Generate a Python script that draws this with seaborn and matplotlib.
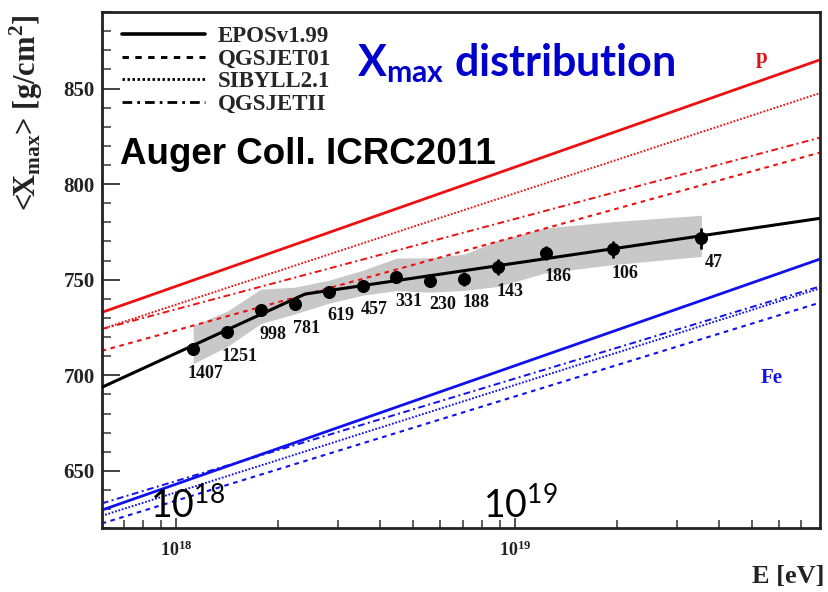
import numpy as np
import pandas as pd
import matplotlib
matplotlib.use("Agg")
import matplotlib.pyplot as plt
from matplotlib.ticker import LogLocator, MultipleLocator, NullFormatter, FuncFormatter
from matplotlib.lines import Line2D
import seaborn as sns

# Auger <Xmax> measurement, ICRC 2011
log_energy = [18.05, 18.15, 18.25, 18.35, 18.45, 18.55, 18.65, 18.75, 18.85, 18.95, 19.09, 19.29, 19.55]
xmax_mean = [713.6, 722.5, 734.1, 737.1, 743.7, 746.9, 751.3, 749.5, 750.4, 756.5, 764.1, 765.9, 771.7]
xmax_stat = [1.6, 1.7, 1.9, 2.1, 2.3, 2.6, 3.0, 3.4, 3.8, 4.2, 3.6, 4.5, 5.5]
sys_up = [12.5, 11.0, 11.0, 9.0, 6.0, 8.0, 10.0, 12.0, 13.0, 14.0, 13.0, 14.5, 12.0]
sys_down = [7.5, 7.5, 7.0, 5.0, 6.0, 5.0, 7.0, 6.0, 6.0, 10.0, 10.5, 8.0, 9.5]
n_events = [1407, 1251, 998, 781, 619, 457, 331, 230, 188, 143, 186, 106, 47]

# broken-line fit of the elongation rate
fit_log_energy = [17.78, 18.38, 19.90]
fit_xmax = [693.7, 742.5, 782.1]

# hadronic interaction model predictions
model_log_energy = [17.78, 19.90]
models = ["EPOSv1.99", "QGSJET01", "SIBYLL2.1", "QGSJETII"]
proton_xmax = {"EPOSv1.99": [732.9, 865.0], "QGSJET01": [712.8, 816.5],
               "SIBYLL2.1": [724.2, 847.6], "QGSJETII": [724.2, 824.3]}
iron_xmax = {"EPOSv1.99": [629.5, 760.8], "QGSJET01": [622.5, 738.0],
             "SIBYLL2.1": [626.5, 745.5], "QGSJETII": [633.0, 746.5]}

sns.set_theme(style="ticks")
plt.rcParams["font.family"] = ["Liberation Serif", "DejaVu Serif"]
plt.rcParams["font.weight"] = "bold"
plt.rcParams["axes.linewidth"] = 2.0
plt.rcParams["axes.edgecolor"] = "#222222"

rows = []
for primary, table in (("p", proton_xmax), ("Fe", iron_xmax)):
    for m in models:
        for le, xm in zip(model_log_energy, table[m]):
            rows.append({"E": 10 ** le, "Xmax": xm, "model": m, "primary": primary})
models_df = pd.DataFrame(rows)

data_df = pd.DataFrame({"E": 10 ** np.array(log_energy), "Xmax": xmax_mean,
                        "stat": xmax_stat, "lo": np.array(xmax_mean) - np.array(sys_down),
                        "hi": np.array(xmax_mean) + np.array(sys_up), "N": n_events})
fit_df = pd.DataFrame({"E": 10 ** np.array(fit_log_energy), "Xmax": fit_xmax})

line_style = {
    "EPOSv1.99": dict(lw=2.0),
    "QGSJET01": dict(lw=1.5, dashes=(2.2, 2.2)),
    "SIBYLL2.1": dict(lw=1.4, dashes=(0.9, 0.9)),
    "QGSJETII": dict(lw=1.4, dashes=(3.5, 1.8, 1.0, 1.8)),
}
colors = {"p": "#ee1010", "Fe": "#1010ee"}

fig = plt.figure(figsize=(8.29, 5.92), dpi=100)
ax = fig.add_axes([0.1227, 0.1076, 0.8664, 0.8721])

# systematic uncertainty band
ax.fill_between(data_df["E"], data_df["lo"], data_df["hi"], color="#c8c8c8", lw=0, zorder=1)

for (primary, m), sub in models_df.groupby(["primary", "model"]):
    st = line_style[m]
    kw = {"dashes": st["dashes"]} if "dashes" in st else {}
    sns.lineplot(data=sub, x="E", y="Xmax", color=colors[primary], lw=st["lw"],
                 ax=ax, legend=False, zorder=2, **kw)

sns.lineplot(data=fit_df, x="E", y="Xmax", color="black", lw=2.2, ax=ax, legend=False, zorder=3)
ax.errorbar(data_df["E"], data_df["Xmax"], yerr=data_df["stat"], fmt="none",
            ecolor="black", elinewidth=2.0, zorder=4)
sns.scatterplot(data=data_df, x="E", y="Xmax", color="black", s=75, edgecolor="black",
                ax=ax, zorder=5, legend=False)

for e, xm, n in zip(data_df["E"], data_df["Xmax"], data_df["N"]):
    ax.annotate(str(n), (e, xm), xytext=(12, -24), textcoords="offset pixels",
                ha="center", va="center", fontsize=13, fontweight="bold", color="#111111")

ax.set_xscale("log")
ax.set_xlim(10 ** 17.78, 10 ** 19.90)
ax.set_ylim(620, 890)
ax.set_xlabel("")
ax.set_ylabel("")

ax.yaxis.set_major_locator(MultipleLocator(50))
ax.yaxis.set_minor_locator(MultipleLocator(10))
ax.xaxis.set_major_locator(LogLocator(base=10, numticks=10))
ax.xaxis.set_minor_locator(LogLocator(base=10, subs=np.arange(2, 10), numticks=20))
ax.xaxis.set_minor_formatter(NullFormatter())
ax.xaxis.set_major_formatter(FuncFormatter(
    lambda v, p: r"$\mathregular{10^{%d}}$" % int(round(np.log10(v)))))

ax.tick_params(axis="y", which="major", direction="in", length=13, width=1.3,
               color="#333333", labelsize=15, pad=5, right=False)
ax.tick_params(axis="y", which="minor", direction="in", length=6.5, width=1.1,
               color="#333333", right=False)
ax.tick_params(axis="x", which="major", direction="in", length=7, width=1.2,
               color="#333333", labelsize=13, pad=9, top=False)
ax.tick_params(axis="x", which="minor", direction="in", length=6, width=1.1,
               color="#333333", top=False)
for lbl in ax.get_yticklabels() + ax.get_xticklabels():
    lbl.set_fontweight("bold")
    lbl.set_color("#222222")

# legend with black line samples
handles = []
for m in models:
    st = line_style[m]
    h = Line2D([], [], color="black", lw=st["lw"] + 0.6, label=m)
    if "dashes" in st:
        h.set_dashes(st["dashes"])
    handles.append(h)
ax.legend(handles=handles, loc="upper left", bbox_to_anchor=(0.0, 1.012), frameon=False,
          handlelength=3.6, handletextpad=0.55, labelspacing=0.06,
          prop={"family": "Liberation Serif", "weight": "bold", "size": 16.5})

ax.text(0.355, 0.902, r"$\mathregular{X_{max}}$ distribution", transform=ax.transAxes,
        ha="left", va="center", fontsize=31, family="Lato", fontweight="bold", color="#0000cc")
ax.text(0.025, 0.724, "Auger Coll. ICRC2011", transform=ax.transAxes, ha="left", va="center",
        fontsize=26.5, family="Liberation Sans", fontweight="bold", color="black")
ax.text(0.067, 0.045, r"$\mathregular{10^{18}}$", transform=ax.transAxes, ha="left", va="center",
        fontsize=27, family="Lato", fontweight="normal", color="black")
ax.text(0.531, 0.045, r"$\mathregular{10^{19}}$", transform=ax.transAxes, ha="left", va="center",
        fontsize=27, family="Lato", fontweight="normal", color="black")
ax.text(0.919, 0.911, "p", transform=ax.transAxes, ha="center", va="center",
        fontsize=15, fontweight="bold", color="#dd1111")
ax.text(0.933, 0.291, "Fe", transform=ax.transAxes, ha="center", va="center",
        fontsize=15, fontweight="bold", color="#1111ee")

fig.text(0.032, 0.81, r"<X$_\mathregular{max}$> [g/cm$^\mathregular{2}$]", rotation=90,
         ha="center", va="center", fontsize=22, fontweight="bold", color="#222222")
fig.text(0.995, 0.027, "E [eV]", ha="right", va="center", fontsize=19,
         fontweight="bold", color="#222222")

fig.savefig("out.png", dpi=100)
